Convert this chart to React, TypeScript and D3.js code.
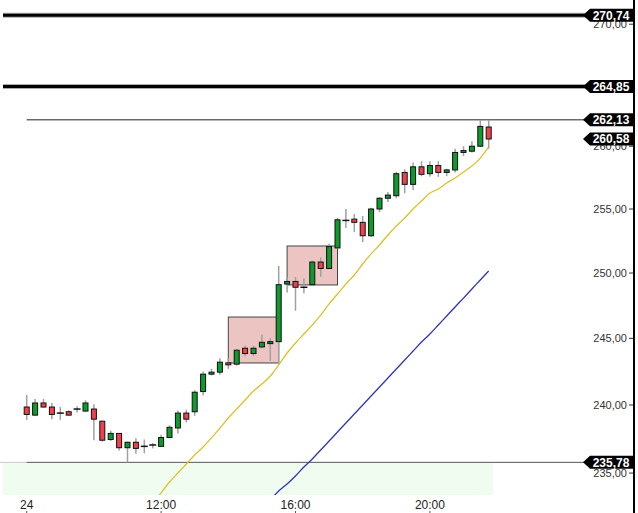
import React from "react";
import * as d3 from "d3";

// ---- data ----
const opens = [239.85, 239.25, 240.15, 239.85, 239.4, 239.5, 239.7, 239.55, 239.7, 238.8, 237.45, 237.9, 236.85, 237.25, 236.95, 237.0, 236.95, 237.6, 238.3, 239.4, 239.5, 241.0, 242.3, 242.45, 243.15, 243.05, 244.25, 243.85, 244.35, 244.6, 244.75, 249.15, 249.35, 248.9, 249.1, 250.85, 250.35, 251.95, 254.1, 254.2, 253.95, 252.9, 255.0, 255.85, 256.05, 257.9, 256.95, 258.35, 257.8, 258.45, 257.9, 258.1, 259.5, 259.6, 260.0, 261.55];
const highs = [240.75, 240.45, 240.45, 240.15, 239.85, 239.6, 239.9, 240.35, 240.05, 238.85, 238.1, 237.9, 237.3, 237.55, 237.45, 237.2, 237.8, 238.5, 239.6, 239.65, 241.1, 242.5, 242.7, 243.5, 243.5, 244.2, 244.45, 244.45, 245.3, 245.0, 250.55, 249.7, 249.7, 249.6, 250.95, 251.2, 252.3, 254.3, 255.0, 254.6, 254.45, 255.1, 255.95, 256.35, 257.95, 258.15, 258.7, 258.8, 258.8, 258.8, 258.2, 259.8, 260.0, 260.4, 262.13, 262.13];
const lows = [238.9, 239.2, 239.8, 238.95, 238.9, 239.2, 239.45, 239.5, 237.4, 237.3, 237.35, 236.65, 235.78, 236.4, 236.45, 236.8, 236.9, 237.55, 237.9, 238.7, 239.2, 240.7, 242.2, 242.25, 242.7, 242.95, 243.65, 243.65, 244.25, 243.3, 243.1, 248.5, 247.1, 248.45, 249.0, 249.7, 250.3, 251.9, 253.5, 253.2, 252.4, 252.8, 254.75, 255.55, 255.85, 256.25, 256.5, 257.6, 257.55, 257.55, 257.6, 257.9, 259.2, 259.5, 259.95, 259.8];
const closes = [239.3, 240.15, 239.85, 239.3, 239.35, 239.25, 239.7, 240.15, 238.95, 237.4, 237.9, 236.85, 237.25, 236.8, 236.95, 237.05, 237.6, 238.35, 239.4, 238.95, 240.95, 242.3, 242.45, 243.2, 243.0, 244.1, 243.85, 244.25, 244.7, 244.75, 249.1, 249.35, 248.9, 248.9, 250.85, 250.35, 252.05, 254.15, 254.1, 253.95, 252.9, 255.0, 255.85, 256.1, 257.8, 256.95, 258.35, 257.75, 258.45, 257.9, 258.1, 259.5, 259.65, 260.0, 261.6, 260.58];

// yellow moving average, starting at candle 15
const maFastStart = 15;
const maFast = [232.83, 233.56, 234.35, 235.0, 235.66, 236.32, 236.9, 237.57, 238.3, 239.04, 239.7, 240.37, 241.04, 241.56, 242.16, 243.0, 243.89, 244.65, 245.33, 246.01, 246.77, 247.62, 248.38, 249.15, 249.85, 250.7, 251.48, 252.18, 252.96, 253.66, 254.29, 255.0, 255.63, 256.26, 256.58, 257.06, 257.46, 257.93, 258.41, 259.05, 259.94];
// blue moving average, starting at candle 29
const maSlowStart = 29;
const maSlow = [233.05, 233.7, 234.21, 234.79, 235.44, 236.03, 236.68, 237.34, 238.0, 238.67, 239.33, 240.0, 240.67, 241.34, 242.01, 242.69, 243.36, 244.04, 244.72, 245.33, 246.01, 246.7, 247.39, 248.07, 248.77, 249.46, 250.16];

const yTicks = [235, 240, 245, 250, 255, 260, 265, 270];
const xTickIdx = [0, 16, 32, 48];
const xTickLabels = ["24", "12:00", "16:00", "20:00"];

const thickLevels = [270.74, 264.85];
const thinLevels = [262.13];
const lowLevel = 235.78;
const tagValues = [270.74, 264.85, 262.13, 260.58, 235.78];

const boxFrom = [24, 31];
const boxTo = [30, 37];
const boxTop = [246.62, 252.1];
const boxBottom = [243.14, 249.08];

const W = 638;
const H = 513;
const fmt = (v: number) => v.toFixed(2).replace(".", ",");

export default function App() {
  const x = d3.scaleLinear().domain([0, 55]).range([26.7, 488.7]);
  const y = d3.scaleLog().domain([240, 255]).range([405, 209]);
  const plotBottom = 495;
  const axisX = 634;

  const fastLine = d3
    .line<number>()
    .x((_, i) => x(maFastStart + i))
    .y((d) => y(d))
    .curve(d3.curveMonotoneX)(maFast);
  const slowLine = d3
    .line<number>()
    .x((_, i) => x(maSlowStart + i))
    .y((d) => y(d))
    .curve(d3.curveMonotoneX)(maSlow);

  const bodyW = 5;
  const font = "'Liberation Sans', Arial, sans-serif";

  return (
    <svg
      width={W}
      height={H}
      style={{ position: "absolute", left: 0, top: 0, background: "#fff" }}
      fontFamily={font}
    >
      <defs>
        <clipPath id="plot">
          <rect x={0} y={0} width={axisX} height={plotBottom} />
        </clipPath>
      </defs>
      {/* low zone */}
      <rect x={3} y={y(lowLevel)} width={490} height={plotBottom - y(lowLevel)} fill="#f1fcf0" />
      <line x1={0} x2={x(0)} y1={y(lowLevel)} y2={y(lowLevel)} stroke="#c8c8c8" strokeWidth={1} />
      <line x1={x(0)} x2={586} y1={y(lowLevel)} y2={y(lowLevel)} stroke="#555" strokeWidth={1} />

      {/* thick resistance lines */}
      {thickLevels.map((v) => (
        <g key={v}>
          <line x1={3} x2={586} y1={y(v)} y2={y(v)} stroke="#aaa" strokeWidth={5} />
          <line x1={3} x2={586} y1={y(v)} y2={y(v)} stroke="#000" strokeWidth={3} />
        </g>
      ))}
      {thinLevels.map((v) => (
        <line key={v} x1={x(0)} x2={586} y1={y(v)} y2={y(v)} stroke="#222" strokeWidth={1} />
      ))}

      {/* boxes */}
      {boxFrom.map((f, i) => (
        <rect
          key={i}
          x={x(f)}
          y={y(boxTop[i])}
          width={x(boxTo[i]) - x(f)}
          height={y(boxBottom[i]) - y(boxTop[i])}
          fill="#ecc5c3"
          stroke="#444"
          strokeWidth={1}
        />
      ))}

      <g clipPath="url(#plot)">
        <path d={fastLine || ""} fill="none" stroke="#dcc22a" strokeWidth={1.3} />
        <path d={slowLine || ""} fill="none" stroke="#2f36b8" strokeWidth={1.3} />
      </g>

      {/* candles */}
      {opens.map((o, i) => {
        const c = closes[i];
        const cx = x(i);
        const yo = y(o);
        const yc = y(c);
        const top = Math.min(yo, yc);
        const h = Math.abs(yo - yc);
        const doji = h < 1.5;
        const up = c >= o;
        return (
          <g key={i}>
            <line x1={cx} x2={cx} y1={y(highs[i])} y2={y(lows[i])} stroke="#a0a0a0" strokeWidth={1.5} />
            {doji ? (
              <line x1={cx - 3.5} x2={cx + 3.5} y1={top} y2={top} stroke="#111" strokeWidth={1.5} />
            ) : (
              <rect
                x={cx - bodyW / 2}
                y={top}
                width={bodyW}
                height={h}
                fill={up ? "#0f9a2c" : "#f0404e"}
                stroke="#111"
                strokeWidth={1}
              />
            )}
          </g>
        );
      })}

      {/* right axis */}
      <line x1={axisX} x2={axisX} y1={0} y2={H} stroke="#000" strokeWidth={2} />
      {yTicks.map((t) => (
        <g key={t}>
          <line x1={629} x2={633} y1={y(t)} y2={y(t)} stroke="#333" />
          <text x={627} y={y(t)} dy="0.35em" textAnchor="end" fontSize={11} fill="#333">
            {fmt(t)}
          </text>
        </g>
      ))}

      {/* price tags */}
      {tagValues.map((v) => {
        const yy = y(v);
        const hh = 6.5;
        const p = `M${583},${yy} L${590},${yy - hh} L${633},${yy - hh} L${633},${yy + hh} L${590},${yy + hh} Z`;
        return (
          <g key={v}>
            <path d={p} fill="#000" />
            <text x={611} y={yy} dy="0.36em" textAnchor="middle" fontSize={12} fontWeight="bold" fill="#fff">
              {fmt(v)}
            </text>
          </g>
        );
      })}

      {/* x axis labels */}
      {xTickIdx.map((idx, i) => (
        <g key={idx}>
          <text x={x(idx)} y={509} textAnchor="middle" fontSize={12} fill="#222">
            {xTickLabels[i]}
          </text>
          <line x1={x(idx)} x2={x(idx)} y1={511} y2={513} stroke="#555" />
        </g>
      ))}
    </svg>
  );
}
